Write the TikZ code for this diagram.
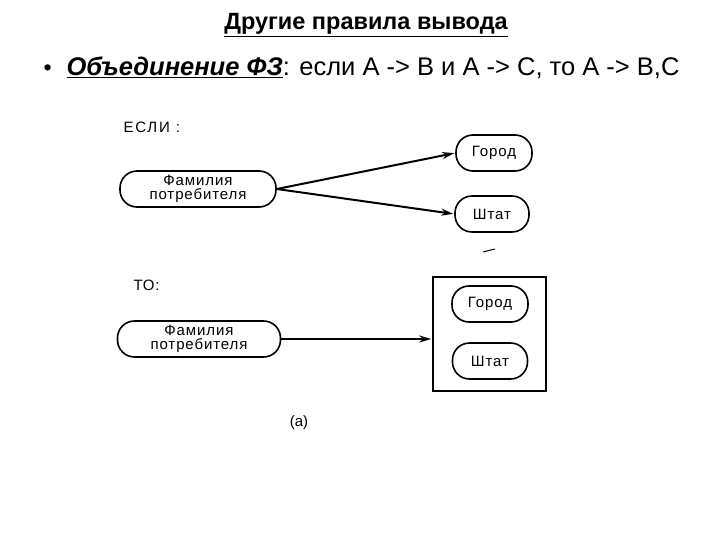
\documentclass[tikz,border=0pt]{standalone}
\usepackage{fontspec}
\setmainfont{Liberation Sans}
\usetikzlibrary{arrows.meta}

\begin{document}
\begin{tikzpicture}[
            x=1pt, y=-1pt,
            >={Stealth[length=12pt, width=7pt]},
            oval/.style={draw, line width=1.6pt, rounded corners=17pt, minimum height=36pt, inner sep=1pt,
                         align=center, font=\fontsize{15}{14.5}\selectfont\addfontfeatures{LetterSpace=6}},
            link/.style={->, line width=2pt, shorten >=1pt},
            tag/.style={anchor=west, font=\fontsize{15}{16}\selectfont}
        ]
            \useasboundingbox (0,0) rectangle (720,540);

            \node[font=\bfseries\fontsize{23.5}{25}\selectfont] (title) at (366,25) {\underline{Другие правила вывода}};
            \node[anchor=west, font=\fontsize{25.5}{27}\selectfont] (rule) at (40,68)
                {{\fontsize{23}{23}\selectfont •}\hspace{15pt}\textbf{\textit{\underline{Объединение ФЗ}}}: если А -> В и А -> С, то А -> В,С};

            % if
            \node[tag] (if) at (120,127) {\addfontfeatures{LetterSpace=12}ЕСЛИ :};
            \node[oval, minimum width=156pt] (fam1) at (198,189) {Фамилия\\потребителя};
            \node[oval, minimum width=76pt] (city1) at (494,153) {Город};
            \node[oval, minimum width=74pt] (state1) at (492,214) {Штат};
            \draw[link] (fam1.east) -- (city1.west);
            \draw[link] (fam1.east) -- (state1.west);
            \draw[line width=1pt] (483,252) -- (495,249);

            % then
            \node[tag] (then) at (130,285) {\addfontfeatures{LetterSpace=6}ТО:};
            \node[oval, minimum width=163pt] (fam2) at (199,339) {Фамилия\\потребителя};
            \node[draw, line width=1.6pt, minimum width=113pt, minimum height=114pt] (box) at (489.5,334) {};
            \node[oval, minimum width=76pt] (city2) at (490,304) {Город};
            \node[oval, minimum width=75pt] (state2) at (490,361) {Штат};
            \draw[link] (fam2.east) -- (fam2.east -| box.west);

            \node[font=\fontsize{15}{16}\selectfont] (cap) at (299,423) {(а)};
        \end{tikzpicture}
\end{document}
